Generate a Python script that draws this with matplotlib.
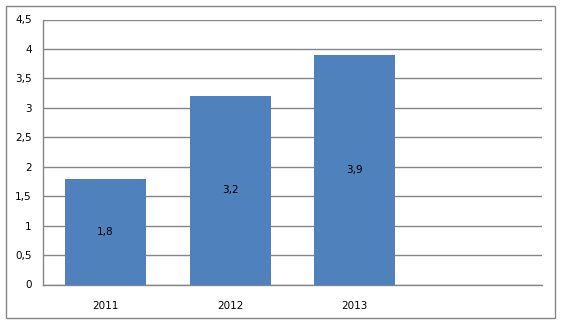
import matplotlib
matplotlib.use("Agg")
import matplotlib.pyplot as plt
from matplotlib.patches import Rectangle
from matplotlib.ticker import FuncFormatter

years = ["2011", "2012", "2013", ""]
values = [1.8, 3.2, 3.9]
yticks = [0, 0.5, 1, 1.5, 2, 2.5, 3, 3.5, 4, 4.5]

bar_color = "#4f81bd"
grid_color = "#868686"

fig = plt.figure(figsize=(5.62, 3.24), dpi=100)
ax = fig.add_axes([43 / 562, 1 - 284.5 / 324, 499 / 562, 265 / 324])

# outer chart border
fig.patches.append(Rectangle((6 / 562, 6 / 324), 549 / 562, 312 / 324,
                             transform=fig.transFigure, fill=False,
                             edgecolor=grid_color, linewidth=1.0))

x = list(range(len(years)))
bars = ax.bar(x[:len(values)], values, width=0.65, color=bar_color, zorder=3)
for b, v in zip(bars, values):
    ax.text(b.get_x() + b.get_width() / 2, v / 2, str(v).replace(".", ","),
            ha="center", va="center", fontsize=7.5, color="black", zorder=4)

ax.set_xlim(-0.5, len(years) - 0.5)
ax.set_ylim(0, 4.5)
ax.set_yticks(yticks)
ax.yaxis.set_major_formatter(FuncFormatter(lambda v, p: ("%g" % v).replace(".", ",")))
ax.set_xticks(x)
ax.set_xticklabels(years)
ax.tick_params(axis="both", length=0, labelsize=7.5)
ax.tick_params(axis="y", pad=8)
ax.tick_params(axis="x", pad=12)

ax.grid(axis="y", color=grid_color, linewidth=1.0, zorder=0)
for s in ["top", "right"]:
    ax.spines[s].set_visible(False)
for s in ["left", "bottom"]:
    ax.spines[s].set_color(grid_color)
    ax.spines[s].set_linewidth(1.0)

fig.savefig("out.png", dpi=100)
